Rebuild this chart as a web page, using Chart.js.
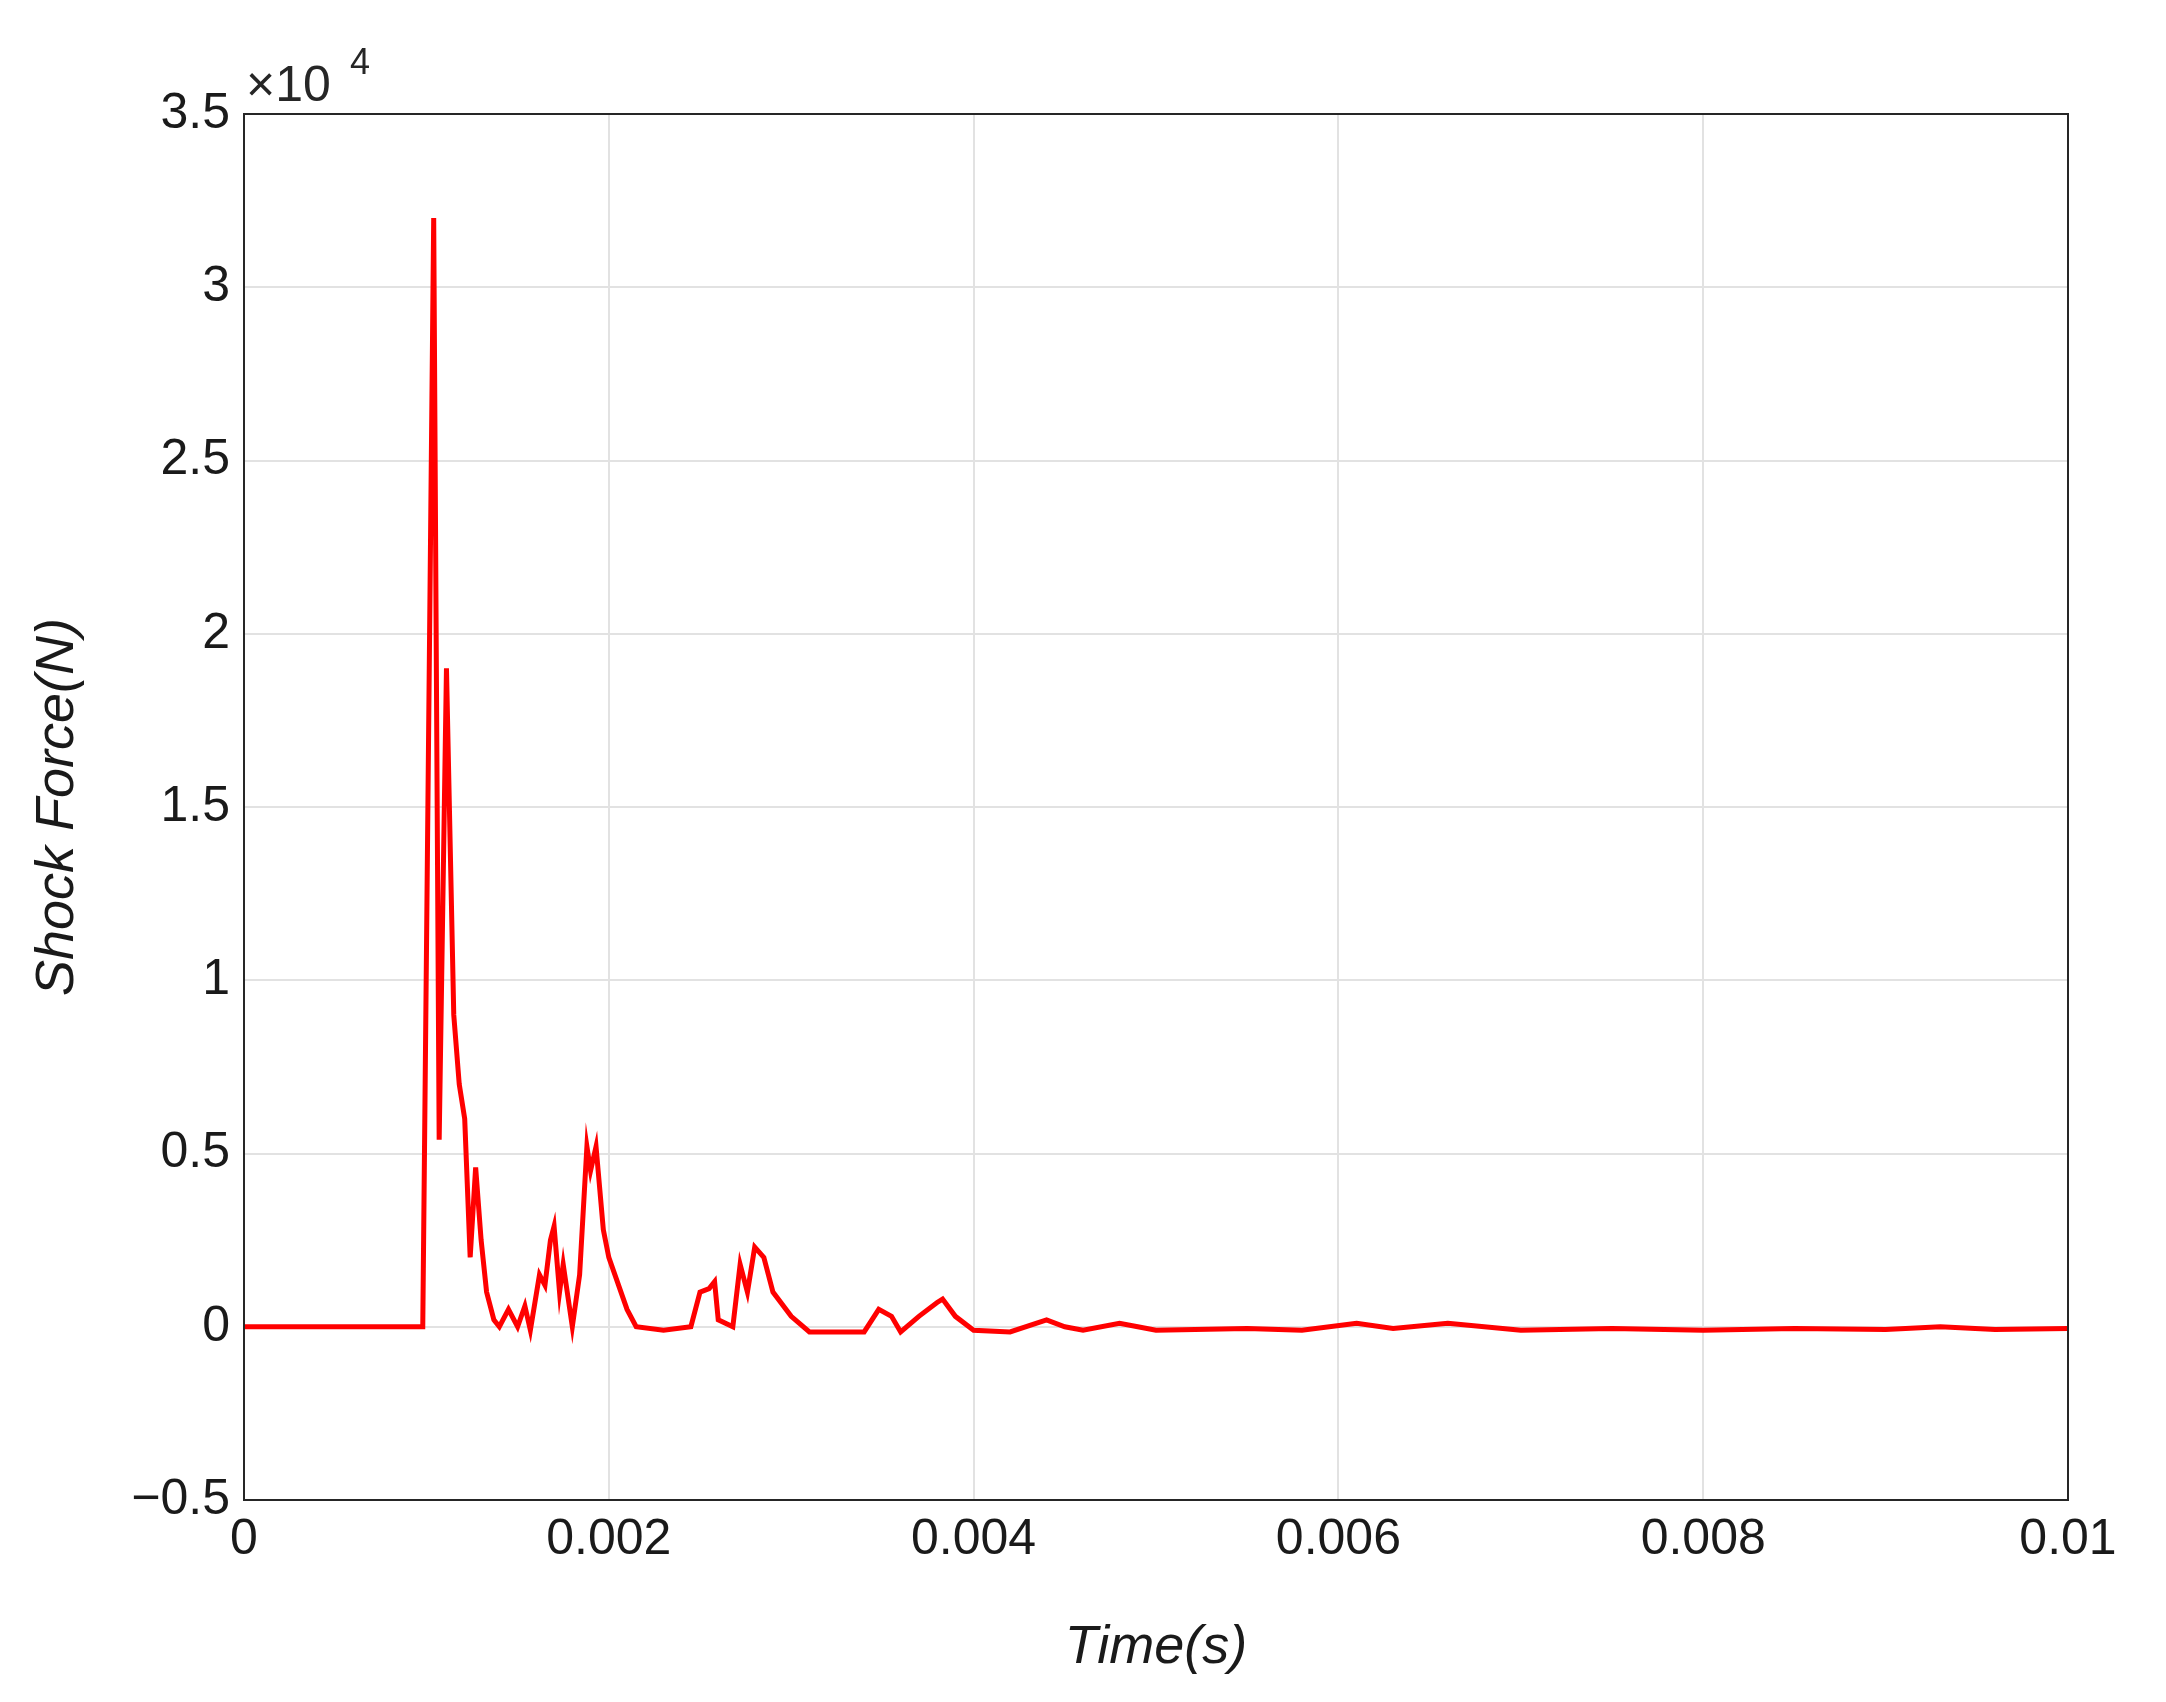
<!DOCTYPE html>
<html lang="en">
<head>
  <meta charset="UTF-8" />
  <title>Shock Force</title>
  <script src="https://cdn.jsdelivr.net/npm/chart.js"></script>
  <style>
    * { margin: 0; padding: 0; box-sizing: border-box; }
    body { background: #fff; width: 2166px; height: 1702px; overflow: hidden; }
    #wrap { width: 2166px; height: 1702px; }
  </style>
</head>
<body>
  <div id="wrap"><canvas id="chart"></canvas></div>
  <script>
    // time (s) and shock force (N)
    const times = [0, 0.00098, 0.00104, 0.00107, 0.00111, 0.00115, 0.00118, 0.00121, 0.00124, 0.00127,
      0.0013, 0.00133, 0.00137, 0.0014, 0.00145, 0.0015, 0.00154, 0.00157, 0.00162, 0.00165,
      0.00168, 0.0017, 0.00173, 0.00175, 0.0018, 0.00184, 0.00188, 0.0019, 0.00193, 0.00197,
      0.002, 0.0021, 0.00215, 0.0023, 0.00245, 0.0025, 0.00255, 0.00258, 0.0026, 0.00268,
      0.00272, 0.00276, 0.0028, 0.00285, 0.0029, 0.003, 0.0031, 0.0034, 0.00348, 0.00355,
      0.0036, 0.0037, 0.0038, 0.00383, 0.0039, 0.004, 0.0042, 0.0044, 0.0045, 0.0046,
      0.0048, 0.0049, 0.005, 0.0055, 0.0058, 0.0061, 0.0063, 0.0066, 0.007, 0.0075,
      0.008, 0.0085, 0.009, 0.0093, 0.0096, 0.01];
    const forces = [0, 0, 32000, 5400, 19000, 9000, 7000, 6000, 2000, 4600,
      2500, 1000, 200, 0, 500, 0, 600, -100, 1500, 1200,
      2500, 2900, 1000, 1800, 0, 1500, 5200, 4500, 5200, 2800,
      2000, 500, 0, -100, 0, 1000, 1100, 1300, 200, 0,
      1800, 1000, 2300, 2000, 1000, 300, -150, -150, 500, 300,
      -150, 300, 700, 800, 300, -100, -150, 200, 0, -100,
      100, 0, -100, -50, -100, 100, -50, 100, -100, -50,
      -100, -50, -80, 0, -80, -50];
    const xTicks = [0, 0.002, 0.004, 0.006, 0.008, 0.01];
    const yTicks = [-5000, 0, 5000, 10000, 15000, 20000, 25000, 30000, 35000];

    const points = times.map((t, i) => ({ x: t, y: forces[i] }));
    const tickFont = { family: 'Arial, "Liberation Sans"', size: 50 };

    const frame = {
      id: 'frame',
      afterDraw(chart) {
        const { ctx, chartArea: a } = chart;
        ctx.save();
        ctx.strokeStyle = '#262626';
        ctx.lineWidth = 2;
        ctx.strokeRect(a.left, a.top, a.right - a.left, a.bottom - a.top);
        ctx.fillStyle = '#262626';
        ctx.font = '50px Arial, "Liberation Sans"';
        ctx.textBaseline = 'bottom';
        ctx.fillText('\u00d710', a.left + 2, a.top - 2);
        ctx.font = '36px Arial, "Liberation Sans"';
        ctx.fillText('4', a.left + 106, a.top - 32);
        ctx.restore();
      }
    };

    new Chart(document.getElementById('chart'), {
      type: 'scatter',
      data: {
        datasets: [{
          data: points,
          showLine: true,
          borderColor: '#ff0000',
          borderWidth: 5,
          pointRadius: 0,
          tension: 0
        }]
      },
      options: {
        responsive: true,
        maintainAspectRatio: false,
        animation: false,
        layout: { padding: { top: 114, right: 98, left: 22, bottom: 18 } },
        plugins: { legend: { display: false }, tooltip: { enabled: false } },
        scales: {
          x: {
            type: 'linear', min: 0, max: 0.01,
            afterBuildTicks: s => { s.ticks = xTicks.map(v => ({ value: v })); },
            ticks: { font: tickFont, color: '#1a1a1a', padding: 10, callback: v => String(+v.toFixed(3)) },
            grid: { color: '#e2e2e2', lineWidth: 2, tickLength: 0 },
            border: { display: false },
            title: { display: true, text: 'Time(s)', color: '#1a1a1a', font: { family: 'Arial, "Liberation Sans"', size: 54, style: 'italic' } },
            afterFit: s => { s.height = 184; }
          },
          y: {
            min: -5000, max: 35000,
            afterBuildTicks: s => { s.ticks = yTicks.map(v => ({ value: v })); },
            ticks: { font: tickFont, color: '#1a1a1a', padding: 14, callback: v => (v < 0 ? '\u2212' : '') + Math.abs(v / 10000) },
            grid: { color: '#e2e2e2', lineWidth: 2, tickLength: 0 },
            border: { display: false },
            title: { display: true, text: 'Shock Force(N)', color: '#1a1a1a', font: { family: 'Arial, "Liberation Sans"', size: 54, style: 'italic' } },
            afterFit: s => { s.width = 222; }
          }
        }
      },
      plugins: [frame]
    });
  </script>
</body>
</html>
